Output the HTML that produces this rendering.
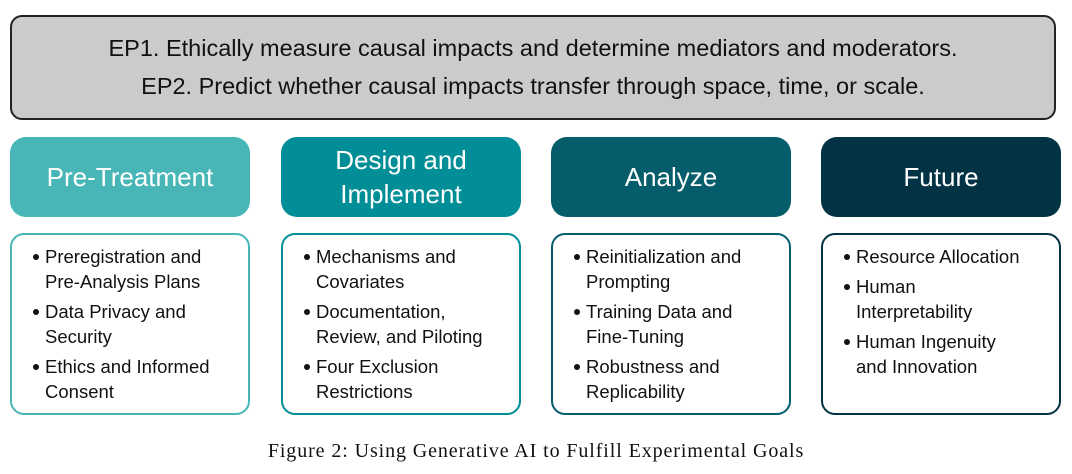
<!DOCTYPE html>
<html><head><style>
body{margin:0;width:1072px;height:474px;background:#fff;position:relative;font-family:"Liberation Sans",sans-serif;overflow:hidden}
.top{position:absolute;left:10px;top:15px;width:1046px;background:#cbcbcb;border:2px solid #222;border-radius:12px;text-align:center;font-size:23.5px;color:#111;line-height:38px;padding-top:12px;box-sizing:border-box;height:105px}
.h{position:absolute;top:137px;width:240px;height:80px;border-radius:16px;color:#fff;display:flex;align-items:center;justify-content:center;text-align:center;font-size:26px;line-height:34px}
.b{position:absolute;top:233px;width:240px;height:182px;border:2.5px solid;border-radius:14px;box-sizing:border-box;font-size:18.5px;color:#111;line-height:25px}
.b ul{margin:0;padding:9px 0 0 21px;list-style:none}
.b li{position:relative;padding-left:12px;margin-bottom:5px}
.b li:before{content:"";position:absolute;left:0;top:10px;width:6px;height:6px;border-radius:50%;background:#111}
.cap{position:absolute;top:440px;left:0;width:1072px;text-align:center;font-family:"Liberation Serif",serif;font-size:20px;letter-spacing:0.9px;color:#111}
</style></head><body>
<div class="top">EP1. Ethically measure causal impacts and determine mediators and moderators.<br>EP2. Predict whether causal impacts transfer through space, time, or scale.</div>
<div class="h" style="left:10px;background:#48b6b7">Pre-Treatment</div>
<div class="h" style="left:281px;background:#018e96">Design and<br>Implement</div>
<div class="h" style="left:551px;background:#055d6c">Analyze</div>
<div class="h" style="left:821px;background:#023344">Future</div>
<div class="b" style="left:10px;border-color:#48b6b7"><ul><li>Preregistration and<br>Pre-Analysis Plans</li><li>Data Privacy and<br>Security</li><li>Ethics and Informed<br>Consent</li></ul></div>
<div class="b" style="left:281px;border-color:#018e96"><ul><li>Mechanisms and<br>Covariates</li><li>Documentation,<br>Review, and Piloting</li><li>Four Exclusion<br>Restrictions</li></ul></div>
<div class="b" style="left:551px;border-color:#055d6c"><ul><li>Reinitialization and<br>Prompting</li><li>Training Data and<br>Fine-Tuning</li><li>Robustness and<br>Replicability</li></ul></div>
<div class="b" style="left:821px;border-color:#023344"><ul><li>Resource Allocation</li><li>Human<br>Interpretability</li><li>Human Ingenuity<br>and Innovation</li></ul></div>
<div class="cap">Figure 2: Using Generative AI to Fulfill Experimental Goals</div>
</body></html>
